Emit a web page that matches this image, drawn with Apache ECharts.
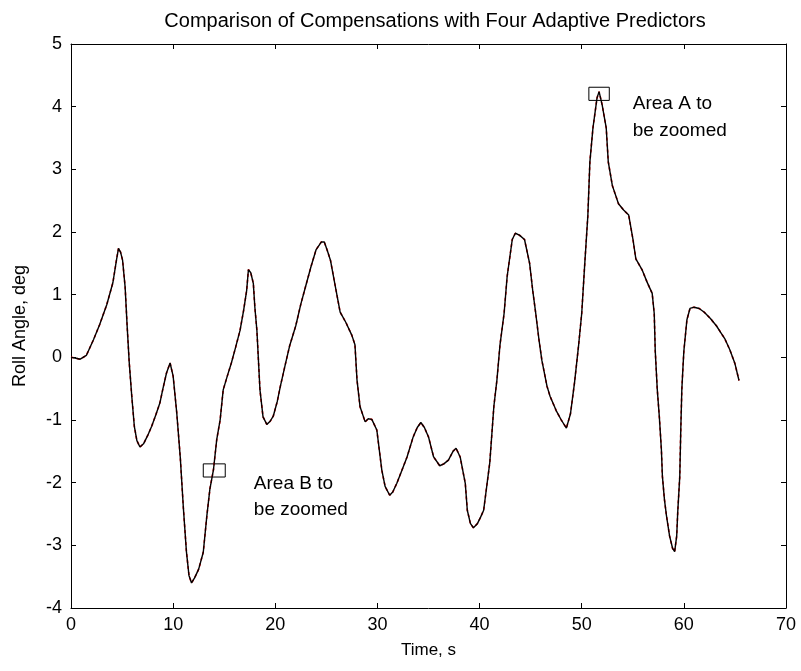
<!DOCTYPE html>
<html>
<head>
<meta charset="utf-8">
<script src="https://cdn.jsdelivr.net/npm/echarts@6/dist/echarts.min.js"></script>
<style>
  html, body { margin: 0; padding: 0; background: #fff; }
  #chart { width: 801px; height: 671px; }
</style>
</head>
<body>
<div id="chart"></div>
<script>
// Roll angle time history (s, deg)
const timeSec = [
  0, 0.4, 0.9, 1.5, 2.2, 2.8, 3.5, 4.1, 4.45, 4.65, 4.85, 5.05, 5.3, 5.5, 5.7, 5.95, 6.2, 6.45, 6.75,
  7.1, 7.5, 7.9, 8.3, 8.7, 9.0, 9.35, 9.7, 10.0, 10.35, 10.7, 11.0, 11.3, 11.55, 11.8, 12.1, 12.5,
  12.95, 13.3, 13.6, 13.95, 14.27, 14.6, 14.9, 15.3, 15.7, 16.1, 16.55, 16.9, 17.2, 17.37, 17.6,
  17.85, 18.0, 18.2, 18.5, 18.8, 19.17, 19.5, 19.8, 20.2, 20.5, 21.0, 21.4, 22.0, 22.5, 23.0, 23.5,
  24.0, 24.5, 24.8, 25.1, 25.4, 25.95, 26.35, 26.9, 27.5, 27.8, 28.0, 28.3, 28.8, 29.1, 29.45, 29.94,
  30.43, 30.75, 31.2, 31.5, 31.9, 32.4, 32.9, 33.5, 33.9, 34.25, 34.6, 35.0, 35.5, 36.1, 36.5, 36.95,
  37.4, 37.7, 38.1, 38.6, 38.8, 39.1, 39.4, 39.8, 40.1, 40.4, 41.0, 41.4, 41.7, 42.0, 42.4, 42.7,
  43.2, 43.5, 43.9, 44.4, 44.9, 45.2, 45.5, 45.8, 46.1, 46.6, 46.9, 47.5, 48.0, 48.5, 48.9, 49.3,
  49.7, 50.0, 50.3, 50.6, 50.8, 51.1, 51.5, 51.7, 52.0, 52.4, 52.6, 53.0, 53.6, 54.1, 54.6, 55.0,
  55.3, 55.9, 56.4, 56.9, 57.1, 57.2, 57.4, 57.6, 57.8, 57.9, 58.1, 58.3, 58.6, 58.9, 59.1, 59.3,
  59.4, 59.6, 59.7, 59.8, 59.9, 60.0, 60.3, 60.6, 61.0, 61.5, 62.0, 62.6, 63.2, 63.6, 64.0, 64.5,
  65.0, 65.4
];
const rollDeg = [
  0, -0.01, -0.03, 0.03, 0.28, 0.52, 0.84, 1.19, 1.55, 1.74, 1.68, 1.55, 1.12, 0.49, -0.08, -0.62, -1.1, -1.33, -1.43,
  -1.38, -1.25, -1.1, -0.92, -0.73, -0.5, -0.25, -0.09, -0.3, -0.88, -1.6, -2.4, -3.1, -3.48, -3.6, -3.52, -3.38,
  -3.11, -2.53, -2.1, -1.79, -1.31, -1.0, -0.52, -0.3, -0.09, 0.15, 0.43, 0.75, 1.07, 1.4, 1.35,
  1.18, 0.8, 0.43, -0.52, -0.95, -1.07, -1.02, -0.94, -0.7, -0.46, -0.1, 0.18, 0.5, 0.85, 1.15, 1.45,
  1.72, 1.84, 1.84, 1.7, 1.55, 1.07, 0.72, 0.56, 0.35, 0.2, -0.36, -0.79, -1.03, -0.98, -0.99, -1.16,
  -1.8, -2.06, -2.2, -2.15, -2.01, -1.8, -1.59, -1.27, -1.12, -1.04, -1.12, -1.27, -1.59, -1.73, -1.7, -1.64,
  -1.5, -1.45, -1.59, -2.01, -2.44, -2.65, -2.72, -2.65, -2.55, -2.44, -1.68, -0.78, -0.36, 0.2, 0.7, 1.29,
  1.88, 1.98, 1.95, 1.88, 1.5, 1.07, 0.7, 0.3, -0.05, -0.46, -0.62, -0.85, -1.0, -1.13, -0.9, -0.4,
  0.2, 0.7, 1.5, 2.26, 3.12, 3.66, 4.14, 4.24, 4.03, 3.66, 3.12, 2.74, 2.45, 2.35, 2.27, 1.9,
  1.57, 1.4, 1.2, 1.02, 0.7, 0.1, -0.52, -0.95, -1.47, -1.9, -2.27, -2.53, -2.85, -3.05, -3.1, -2.85,
  -2.47, -1.9, -1.15, -0.52, -0.2, 0.1, 0.6, 0.78, 0.8, 0.78, 0.72, 0.62, 0.5, 0.4, 0.3, 0.12,
  -0.1, -0.37
];

// Zoom areas: [tStart, tEnd, vLow, vHigh]
const areaA = [50.7, 52.7, 4.10, 4.31];
const areaB = [12.95, 15.1, -1.91, -1.70];

// Annotation text anchors: [t, v, text]
const notes = [
  [55.0, 4.05, 'Area A to'],
  [55.0, 3.62, 'be zoomed'],
  [17.9, -2.02, 'Area B to'],
  [17.9, -2.44, 'be zoomed']
];

const xTicks = { min: 0, max: 70, interval: 10 };
const yTicks = { min: -4, max: 5, interval: 1 };

const FONT = 'Liberation Sans';
const pts = timeSec.map((t, i) => [t, rollDeg[i]]);

const chart = echarts.init(document.getElementById('chart'), null, { renderer: 'canvas' });

const axisCommon = {
  axisLine: { show: true, onZero: false, lineStyle: { color: '#000', width: 1 } },
  axisTick: { show: true, inside: true, length: 5, lineStyle: { color: '#000' } },
  splitLine: { show: false }
};

chart.setOption({
  animation: false,
  backgroundColor: '#fff',
  title: {
    text: 'Comparison of Compensations with Four Adaptive Predictors',
    left: 430, top: 6, textAlign: 'center',
    textStyle: { fontFamily: FONT, fontSize: 20, fontWeight: 'normal', color: '#000' }
  },
  grid: { left: 71, right: 15, top: 44, bottom: 63 },
  xAxis: [
    Object.assign({
      type: 'value', position: 'bottom', ...xTicks,
      name: 'Time, s', nameLocation: 'middle', nameGap: 34,
      nameTextStyle: { fontFamily: FONT, fontSize: 17, color: '#000' },
      axisLabel: { fontFamily: FONT, fontSize: 18, color: '#000', margin: 8 }
    }, axisCommon),
    Object.assign({
      type: 'value', position: 'top', ...xTicks,
      axisLabel: { show: false }
    }, axisCommon)
  ],
  yAxis: [
    Object.assign({
      type: 'value', position: 'left', ...yTicks,
      name: 'Roll Angle, deg', nameLocation: 'middle', nameGap: 42, nameRotate: 90,
      nameTextStyle: { fontFamily: FONT, fontSize: 18, color: '#000' },
      axisLabel: { fontFamily: FONT, fontSize: 18, color: '#000', margin: 9 }
    }, axisCommon),
    Object.assign({
      type: 'value', position: 'right', ...yTicks,
      axisLabel: { show: false }
    }, axisCommon)
  ],
  series: [
    {
      name: 'Reference',
      type: 'line', xAxisIndex: 0, yAxisIndex: 0,
      data: pts, showSymbol: false, smooth: false,
      lineStyle: { color: '#ff0000', width: 1.6, type: [3, 3] },
      z: 2
    },
    {
      name: 'Compensated',
      type: 'line', xAxisIndex: 0, yAxisIndex: 0,
      data: pts, showSymbol: false, smooth: false,
      lineStyle: { color: '#000', width: 1.4 },
      markArea: {
        silent: true,
        itemStyle: { color: 'rgba(0,0,0,0)', borderColor: '#000', borderWidth: 1 },
        data: [
          [{ coord: [areaA[0], areaA[3]] }, { coord: [areaA[1], areaA[2]] }],
          [{ coord: [areaB[0], areaB[3]] }, { coord: [areaB[1], areaB[2]] }]
        ]
      },
      z: 3
    },
    {
      name: 'Notes',
      type: 'scatter', xAxisIndex: 0, yAxisIndex: 0,
      symbolSize: 0, silent: true,
      itemStyle: { opacity: 1 },
      data: notes.map(n => ({ value: [n[0], n[1]], label: { formatter: n[2] } })),
      label: {
        show: true, position: 'right', distance: 0,
        fontFamily: FONT, fontSize: 19, color: '#000'
      },
      z: 4
    }
  ]
});
</script>
</body>
</html>
